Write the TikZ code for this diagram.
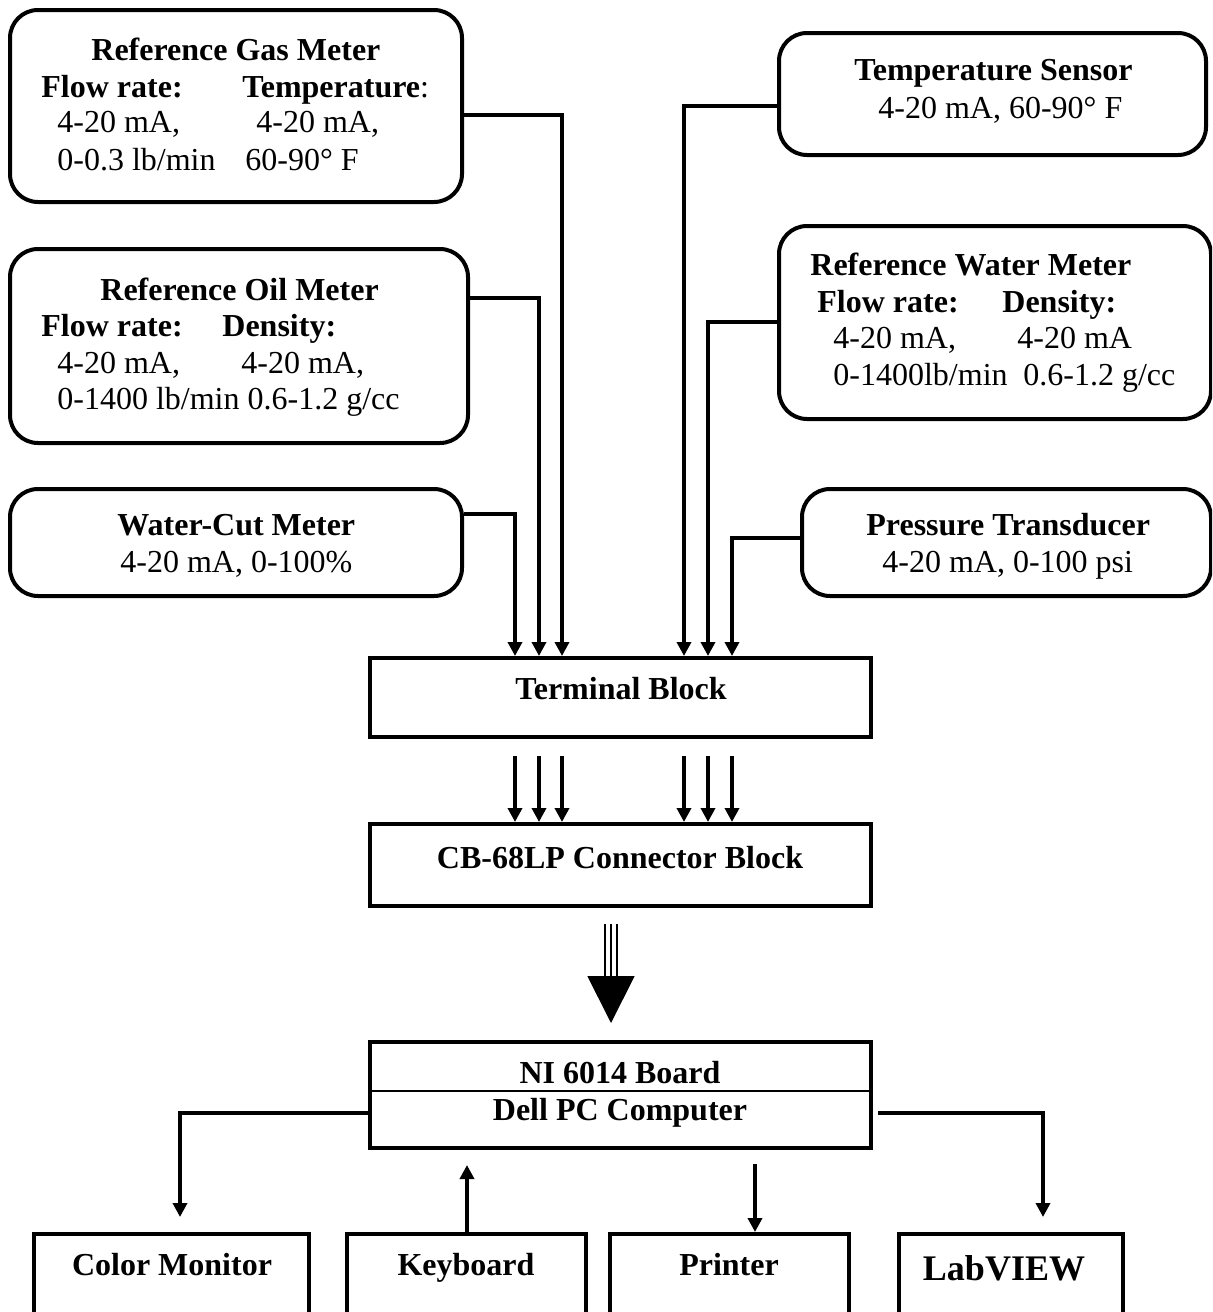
\documentclass[tikz,border=0pt]{standalone}
\usepackage{fontspec}
\setmainfont{Liberation Serif}
\usetikzlibrary{arrows.meta,fit}

\begin{document}
\begin{tikzpicture}[x=0.5pt,y=-0.5pt,
    meter/.style={draw,line width=2pt,rounded corners=14pt,inner sep=0pt},
    block/.style={draw,line width=2pt,inner sep=0pt},
    txt/.style={inner sep=0pt,anchor=base west,font=\fontsize{16pt}{18pt}\selectfont},
    ctxt/.style={inner sep=0pt,anchor=base,font=\fontsize{16pt}{18pt}\selectfont\bfseries},
    conn/.style={line width=2pt,-{Triangle[length=7pt,width=7pt]}}]
    \useasboundingbox (0,0) rectangle (1212,1312);
    \clip (0,0) rectangle (1212,1312);
    % sensor boxes
    \node[meter,fit={(10,10) (462,202)}] (gas) {};
    \node[meter,fit={(779,33) (1206,155)}] (tsens) {};
    \node[meter,fit={(10,249) (468,443)}] (oil) {};
    \node[meter,fit={(779,226) (1211,419)}] (water) {};
    \node[meter,fit={(10,489) (462,596)}] (wcut) {};
    \node[meter,fit={(802,489) (1211,596)}] (press) {};
    \node[txt] (gas1) at (91,60) {\textbf{Reference Gas Meter}};
    \node[txt] (gas2) at (41,97) {\textbf{Flow rate:}};
    \node[txt] (gas3) at (242,97) {\textbf{Temperature}:};
    \node[txt] (gas4) at (57,132) {4-20 mA,};
    \node[txt] (gas5) at (256,132) {4-20 mA,};
    \node[txt] (gas6) at (57,170) {0-0.3 lb/min};
    \node[txt] (gas7) at (245,170) {60-90° F};
    \node[txt] (tsens1) at (854,80) {\textbf{Temperature Sensor}};
    \node[txt] (tsens2) at (878,118) {4-20 mA, 60-90° F};
    \node[txt] (oil1) at (100,300) {\textbf{Reference Oil Meter}};
    \node[txt] (oil2) at (41,336) {\textbf{Flow rate:}};
    \node[txt] (oil3) at (222,336) {\textbf{Density:}};
    \node[txt] (oil4) at (57,373) {4-20 mA,};
    \node[txt] (oil5) at (241,373) {4-20 mA,};
    \node[txt] (oil6) at (57,409) {0-1400 lb/min 0.6-1.2 g/cc};
    \node[txt] (water1) at (810,275) {\textbf{Reference Water Meter}};
    \node[txt] (water2) at (817,312) {\textbf{Flow rate:}};
    \node[txt] (water3) at (1002,312) {\textbf{Density:}};
    \node[txt] (water4) at (833,348) {4-20 mA,};
    \node[txt] (water5) at (1017,348) {4-20 mA};
    \node[txt] (water6) at (833,385) {0-1400lb/min};
    \node[txt] (water7) at (1023,385) {0.6-1.2 g/cc};
    \node[txt] (wcut1) at (117,535) {\textbf{Water-Cut Meter}};
    \node[txt] (wcut2) at (120,572) {4-20 mA, 0-100\%};
    \node[txt] (press1) at (866,535) {\textbf{Pressure Transducer}};
    \node[txt] (press2) at (882,572) {4-20 mA, 0-100 psi};
    % blocks
    \node[block,fit={(370,658) (871,737)}] (term) {};
    \node[block,fit={(370,824) (871,906)}] (cb) {};
    \node[block,fit={(370,1042) (871,1148)}] (ni) {};
    \node[ctxt] (term1) at (621,699) {Terminal Block};
    \node[ctxt] (cb1) at (620,868) {CB-68LP Connector Block};
    \node[ctxt] (ni1) at (620,1083) {NI 6014 Board};
    \node[ctxt] (ni2) at (620,1120) {Dell PC Computer};
    \draw[line width=1pt] (ni.west |- 0,1091) -- (ni.east |- 0,1091);
    \node[block,fit={(34,1234) (309,1330)}] (mon) {};
    \node[block,fit={(347,1234) (586,1330)}] (kbd) {};
    \node[block,fit={(610,1234) (849,1330)}] (prn) {};
    \node[block,fit={(899,1234) (1123,1330)}] (lab) {};
    \node[ctxt] (mon1) at (172,1275) {Color Monitor};
    \node[ctxt] (kbd1) at (466,1275) {Keyboard};
    \node[ctxt] (prn1) at (729,1275) {Printer};
    \node[ctxt,font=\fontsize{18pt}{20pt}\selectfont\bfseries] (lab1) at (1004,1280) {LabVIEW};
    % signals into the terminal block
    \draw[conn] (gas.east |- 0,115) -| (term.north -| 562,0);
    \draw[conn] (oil.east |- 0,298) -| (term.north -| 539,0);
    \draw[conn] (wcut.east |- 0,514) -| (term.north -| 515,0);
    \draw[conn] (tsens.west |- 0,106) -| (term.north -| 684,0);
    \draw[conn] (water.west |- 0,322) -| (term.north -| 708,0);
    \draw[conn] (press.west |- 0,538) -| (term.north -| 732,0);
    \foreach \x in {515,539,562,684,708,732}
        \draw[conn,shorten <=8.5pt] (term.south -| \x,0) -- (cb.north -| \x,0);
    % bundle to the board
    \foreach \x in {605,617}
        \draw[line width=1pt,shorten <=8pt,shorten >=32pt] (cb.south -| \x,0) -- (ni.north -| \x,0);
    \draw[line width=1pt,-{Triangle[length=23.5pt,width=23.5pt]},shorten <=8pt,shorten >=8.5pt] (cb.south -| 611,0) -- (ni.north -| 611,0);
    % peripherals
    \draw[conn,shorten >=7.5pt] (ni.west |- 0,1113) -| (mon.north -| 180,0);
    \draw[conn,shorten <=2.5pt,shorten >=7.5pt] (ni.east |- 0,1113) -| (lab.north -| 1043,0);
    \draw[conn,shorten >=7.5pt] (kbd.north -| 467,0) -- (ni.south -| 467,0);
    \draw[conn,shorten <=7pt] (ni.south -| 755,0) -- (prn.north -| 755,0);
\end{tikzpicture}
\end{document}
